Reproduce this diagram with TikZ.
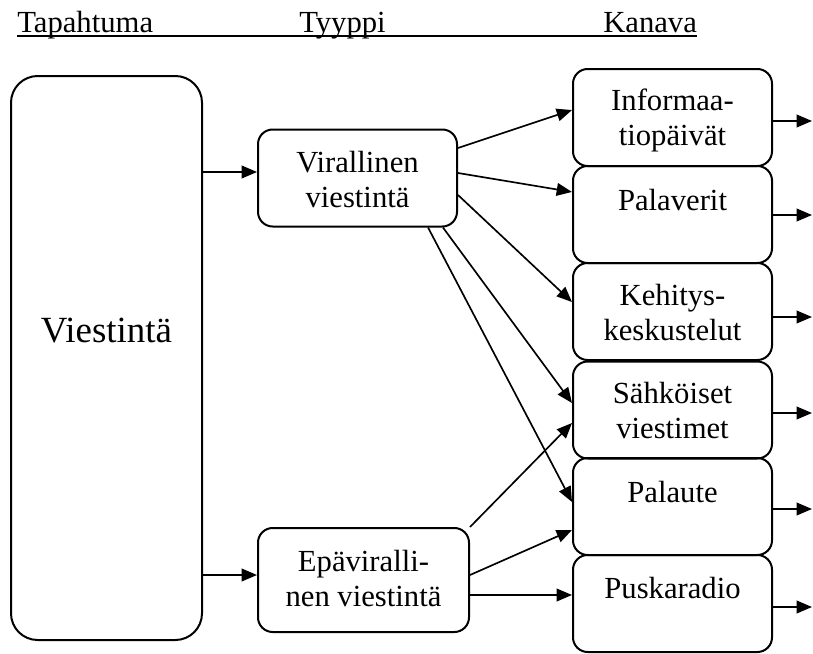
\documentclass[tikz,border=0pt]{standalone}
\usepackage{fontspec}
\setmainfont{Liberation Serif}
\usetikzlibrary{arrows.meta}
\begin{document}
\begin{tikzpicture}[x=0.75pt,y=-0.75pt,
  box/.style={draw, line width=1.5pt, rounded corners=11pt, inner sep=0pt,
    minimum width=199*0.75pt, minimum height=97*0.75pt},
  txt/.style={anchor=north, inner sep=0pt, align=center,
    font=\fontsize{23}{26.5}\selectfont},
  hdr/.style={anchor=base west, inner sep=0pt, text depth=2.6pt,
    font=\fontsize{23}{26.5}\selectfont},
  arr/.style={line width=1.25pt, -{Triangle[length=11.5pt,width=9.5pt]}},
]
% canvas
\fill[white] (0,0) rectangle (813,653);
\useasboundingbox (0,0) rectangle (813,653);

% column headings, underlined as one line
\node[hdr] (h1) at (17,32) {Tapahtuma};
\node[hdr] (h2) at (299,32) {Tyyppi};
\node[hdr] (h3) at (603,32) {Kanava};
\draw[line width=1.5pt] (h1.south west) -- (h3.south east);

% event
\node[box, rounded corners=20pt, minimum width=191*0.75pt, minimum height=564*0.75pt]
  (vi) at (106.5,358) {};
\node[anchor=base, inner sep=0pt, font=\fontsize{27.7}{33}\selectfont] (vit) at (106.5,342) {Viestintä};

% types
\node[box] (vir) at (357.5,178) {};
\node[txt] (virt) at (357.5,{172-26.667}) {\rule{0pt}{20pt}Virallinen\\viestintä};
\node[box, minimum width=211*0.75pt, minimum height=104*0.75pt] (epa) at (363.5,580) {};
\node[txt] (epat) at (363.5,{571-26.667}) {\rule{0pt}{20pt}Epäviralli-\\nen viestintä};

% channels
\node[box] (k1) at (672.5,117.5) {};
\node[box] (k2) at (672.5,214.5) {};
\node[box] (k3) at (672.5,311.5) {};
\node[box] (k4) at (672.5,410) {};
\node[box] (k5) at (672.5,506.5) {};
\node[box] (k6) at (672.5,603.5) {};
\node[txt] (k1t) at (672.5,{110-26.667}) {\rule{0pt}{20pt}Informaa-\\tiopäivät};
\node[txt] (k2t) at (672.5,{210-26.667}) {\rule{0pt}{20pt}Palaverit};
\node[txt] (k3t) at (672.5,{305-26.667}) {\rule{0pt}{20pt}Kehitys-\\keskustelut};
\node[txt] (k4t) at (672.5,{403-26.667}) {\rule{0pt}{20pt}Sähköiset\\viestimet};
\node[txt] (k5t) at (672.5,{502-26.667}) {\rule{0pt}{20pt}Palaute};
\node[txt] (k6t) at (672.5,{598-26.667}) {\rule{0pt}{20pt}Puskaradio};

% event -> types
\draw[arr] ([yshift=4.5pt]vi.east |- vir.west) -- ([yshift=4.5pt]vir.west);
\draw[arr] ([yshift=3.75pt]vi.east |- epa.west) -- ([yshift=3.75pt]epa.west);

% formal communication -> channels
\draw[arr] ([yshift=22.5pt]vir.east) -- ([yshift=5.6pt]k1.west);
\draw[arr] ([yshift=3.75pt]vir.east) -- ([yshift=16.9pt]k2.west);
\draw[arr] ([yshift=-12.75pt]vir.east) -- ([yshift=7.1pt]k3.west);
\draw[arr] ([xshift=64.1pt]vir.south) -- ([yshift=5.25pt]k4.west);
\draw[arr] ([xshift=52.9pt]vir.south) -- ([yshift=3.4pt]k5.west);

% informal communication -> channels
\draw[arr] (epa.north east) -- ([yshift=-9.75pt]k4.west);
\draw[arr] ([yshift=3.75pt]epa.east) -- ([yshift=-17.6pt]k5.west);
\draw[arr] ([yshift=-11.25pt]epa.east) -- ([yshift=-11.25pt]epa.east -| k6.west);

% outgoing arrows
\coordinate (o1) at (812,121);
\coordinate (o2) at (812,215);
\coordinate (o3) at (812,317);
\coordinate (o4) at (812,413);
\coordinate (o5) at (812,509);
\coordinate (o6) at (812,607);
\foreach \i in {1,...,6}
  \draw[arr] (o\i -| k\i.east) -- (o\i);
\end{tikzpicture}
\end{document}
